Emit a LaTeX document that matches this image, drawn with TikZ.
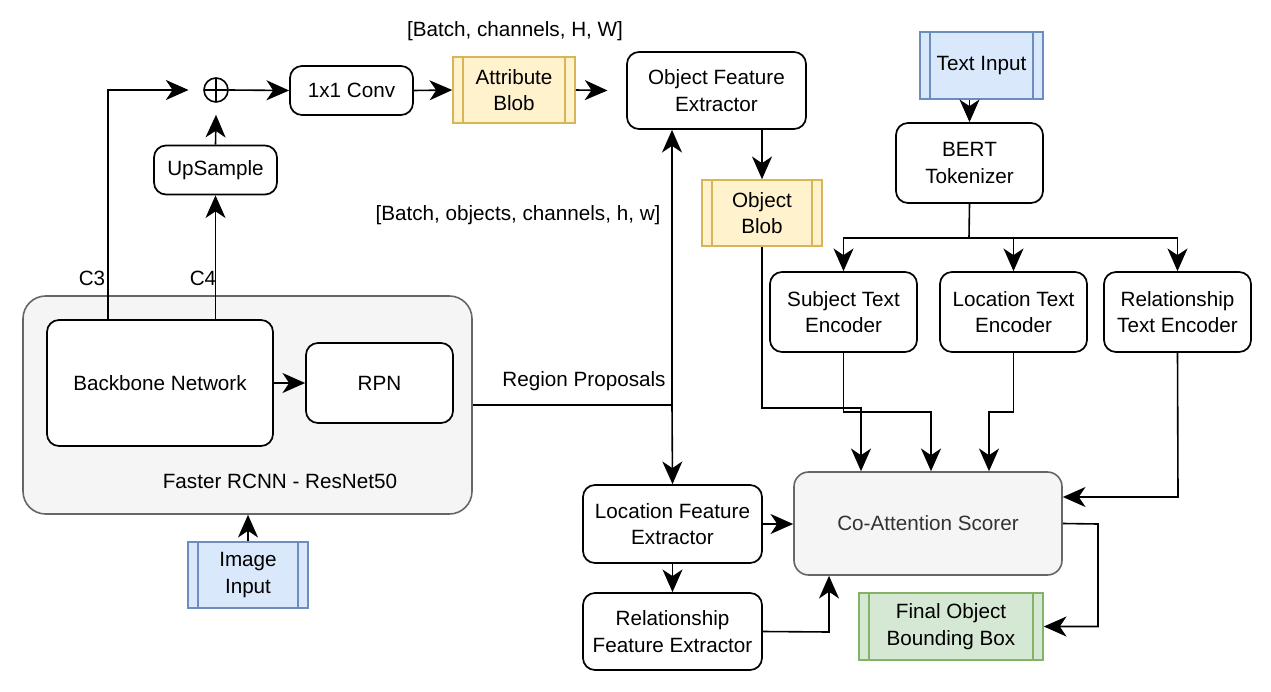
\documentclass[tikz,border=0pt]{standalone}
\usepackage{fontspec}
\setmainfont{Liberation Sans}
\usetikzlibrary{arrows.meta}
\definecolor{blobfill}{HTML}{FFF2CC}
\definecolor{blobline}{HTML}{D6B656}
\definecolor{infill}{HTML}{DAE8FC}
\definecolor{inline}{HTML}{6C8EBF}
\definecolor{outfill}{HTML}{D5E8D4}
\definecolor{outline}{HTML}{82B366}
\definecolor{grpfill}{HTML}{F5F5F5}
\definecolor{grpline}{HTML}{666666}
\definecolor{grptext}{HTML}{333333}
\tikzset{
  block/.style={draw, line width=1.3pt, rounded corners=9pt, fill=white,
    align=center, inner sep=0pt},
  group/.style={draw=grpline, line width=1.2pt, rounded corners=17pt, fill=grpfill,
    inner sep=0pt},
  proc/.style={draw, line width=1.2pt, align=center, inner sep=0pt,
    path picture={
      \draw[line width=1.2pt, draw=#1]
        ([xshift=7.5pt]path picture bounding box.north west) -- ([xshift=7.5pt]path picture bounding box.south west)
        ([xshift=-7.5pt]path picture bounding box.north east) -- ([xshift=-7.5pt]path picture bounding box.south east);}},
  arr/.style={line width=1.2pt, -{Stealth[length=17pt,width=15pt,inset=5pt]}},
  wire/.style={line width=1.2pt},
  lbl/.style={inner sep=0pt}
}
\begin{document}
\begin{tikzpicture}[x=0.75pt,y=-0.75pt,font=\fontsize{15.5}{20}\selectfont]
	\useasboundingbox (0,0) rectangle (1271,692);
	% faster rcnn group
	\node[group, minimum width=336.75pt, minimum height=163.5pt] (rcnn) at (247.5,405) {};
	\node[lbl] (rcnnlbl) at (280,481) {Faster RCNN - ResNet50};
	\node[block, minimum width=169.5pt, minimum height=94.5pt] (backbone) at (160,383) {Backbone Network};
	\node[block, minimum width=110.25pt, minimum height=60pt] (rpn) at (379.5,383) {RPN};
	\node[proc=inline, fill=infill, draw=inline, minimum width=90pt, minimum height=49.5pt] (imgin) at (248,575) {Image\\Input};
	% top row
	\node[block, minimum width=92.25pt, minimum height=36.75pt] (upsample) at (215.5,170) {UpSample};
	\node[circle, draw, line width=1.2pt, minimum size=18pt, inner sep=0pt,
	  path picture={\draw[line width=1.2pt] (path picture bounding box.north) -- (path picture bounding box.south)
	    (path picture bounding box.west) -- (path picture bounding box.east);}] (plus) at (216,90) {};
	\node[block, minimum width=92.25pt, minimum height=36.75pt] (conv) at (351.5,90.5) {1x1 Conv};
	\node[proc=blobline, fill=blobfill, draw=blobline, minimum width=91.5pt, minimum height=49.5pt] (attr) at (514,90) {Attribute\\Blob};
	\node[block, minimum width=134.25pt, minimum height=57.75pt] (objfeat) at (716.5,90.5) {Object Feature\\Extractor};
	\node[proc=blobline, fill=blobfill, draw=blobline, minimum width=90pt, minimum height=49.5pt] (objblob) at (762,213) {Object\\Blob};
	\node[lbl] (shape1) at (515,31) {[Batch, channels, H, W]};
	\node[lbl] (shape2) at (518,215) {[Batch, objects, channels, h, w]};
	\node[lbl] (c3lbl) at (92,278) {C3};
	\node[lbl] (c4lbl) at (203,278) {C4};
	% text branch
	\node[proc=inline, fill=infill, draw=inline, minimum width=92.25pt, minimum height=50.25pt] (textin) at (981.5,65.5) {Text Input};
	\node[block, minimum width=110.25pt, minimum height=60pt] (bert) at (969.5,163) {BERT\\Tokenizer};
	\node[block, minimum width=110.25pt, minimum height=60pt] (subj) at (843.5,312) {Subject Text\\Encoder};
	\node[block, minimum width=110.25pt, minimum height=60pt] (loctext) at (1013.5,312) {Location Text\\Encoder};
	\node[block, minimum width=110.25pt, minimum height=60pt] (reltext) at (1177.5,312) {Relationship\\Text Encoder};
	% lower right
	\node[block, minimum width=134.25pt, minimum height=58.5pt] (locfeat) at (672.5,524) {Location Feature\\Extractor};
	\node[block, minimum width=134.25pt, minimum height=57.75pt] (relfeat) at (672.5,631.5) {Relationship\\Feature Extractor};
	\node[group, rounded corners=11pt, minimum width=201pt, minimum height=77.25pt, text=grptext] (coatt) at (928,523.5) {Co-Attention Scorer};
	\node[proc=outline, fill=outfill, draw=outline, minimum width=138pt, minimum height=50.25pt] (final) at (951,626.5) {Final Object\\Bounding Box};
	\node[lbl] (rplbl) at (584,381) {Region Proposals};
	% junctions
	\coordinate (c3) at (108,90);
	\coordinate (rp) at (672,405);
	\coordinate (split) at (969,238);
	\coordinate (j1) at (861,408);
	\coordinate (j2) at (931,412);
	\coordinate (j3) at (989,412);
	\coordinate (j4) at (1178,497);
	\coordinate (j5) at (829,632);
	\coordinate (j6) at (1098,524);
	% connectors
	\draw[arr] (backbone.north -| c3) -- (c3) -- ([xshift=-11pt]plus.west);
	\draw[arr] (backbone.north -| upsample) -- (upsample.south);
	\draw[arr] (upsample.north) -- ([yshift=-9pt]plus.south);
	\draw[arr] (plus.east) -- (conv.west);
	\draw[arr] (conv.east) -- (attr.west);
	\draw[arr] (attr.east) -- ([xshift=-14pt]objfeat.west);
	\draw[arr] (objfeat.south -| objblob) -- (objblob.north);
	\draw[arr] (backbone.east) -- (rpn.west);
	\draw[arr] (imgin.north) -- (rcnn.south -| imgin);
	\draw[wire] (rcnn.east |- rp) -- (rp);
	\draw[arr] (rp) -- (objfeat.south -| rp);
	\draw[arr] (rp) -- (locfeat.north);
	\draw[arr] (textin.south -| bert) -- (bert.north);
	\draw[wire] (bert.south) -- (split);
	\draw[arr] (split) -| (subj.north);
	\draw[arr] (split) -| (loctext.north);
	\draw[arr] (split) -| (reltext.north);
	\draw[arr] (objblob.south) |- (j1) -- (j1 |- coatt.north);
	\draw[arr] (subj.south) |- (j2) -- (j2 |- coatt.north);
	\draw[arr] (loctext.south) |- (j3) -- (j3 |- coatt.north);
	\draw[arr] (reltext.south) -- (j4) -- (j4 -| coatt.east);
	\draw[arr] (locfeat.east) -- (locfeat.east -| coatt.west);
	\draw[arr] (locfeat.south) -- (relfeat.north);
	\draw[arr] (relfeat.east) -- (j5) -- (j5 |- coatt.south);
	\draw[arr] (coatt.east) -- (j6) |- (final.east);
\end{tikzpicture}
\end{document}
